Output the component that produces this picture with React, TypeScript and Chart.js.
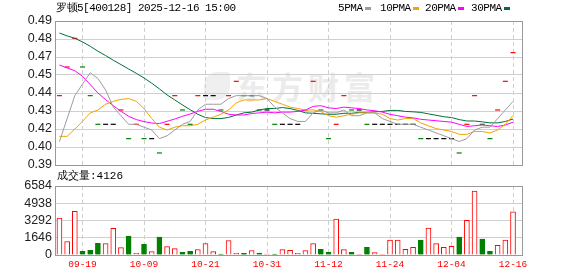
import React, { useEffect, useRef } from "react";
import { Chart, registerables } from "chart.js";

Chart.register(...registerables);

const TITLE = "罗顿5[400128] 2025-12-16 15:00";
const VOLUME_TITLE = "成交量:4126";
const WATERMARK = "东方财富";

const DATES = [
  "09-16", "09-17", "09-18", "09-19", "09-22", "09-23", "09-24", "09-25", "09-26", "09-29",
  "09-30", "10-09", "10-10", "10-13", "10-14", "10-15", "10-16", "10-17", "10-20", "10-21",
  "10-22", "10-23", "10-24", "10-27", "10-28", "10-29", "10-30", "10-31", "11-03", "11-04",
  "11-05", "11-06", "11-07", "11-10", "11-11", "11-12", "11-13", "11-14", "11-17", "11-18",
  "11-19", "11-20", "11-21", "11-24", "11-25", "11-26", "11-27", "11-28", "12-01", "12-02",
  "12-03", "12-04", "12-05", "12-08", "12-09", "12-10", "12-11", "12-12", "12-15", "12-16",
];
const DATE_TICKS = ["09-19", "10-09", "10-21", "10-31", "11-12", "11-24", "12-04", "12-16"];

const CLOSE = [
  0.44, 0.46, 0.48, 0.46, 0.44, 0.42, 0.42, 0.42, 0.43, 0.41,
  0.42, 0.41, 0.41, 0.40, 0.42, 0.44, 0.43, 0.42, 0.44, 0.44,
  0.44, 0.43, 0.44, 0.45, 0.44, 0.44, 0.43, 0.43, 0.42, 0.42,
  0.42, 0.42, 0.43, 0.45, 0.43, 0.41, 0.42, 0.44, 0.43, 0.43,
  0.42, 0.42, 0.42, 0.42, 0.42, 0.42, 0.42, 0.41, 0.41, 0.41,
  0.41, 0.41, 0.40, 0.42, 0.44, 0.42, 0.41, 0.43, 0.45, 0.47,
];
const DIRECTION = [
  "up", "up", "up", "down", "down", "down", "flat", "flat", "up", "down",
  "up", "down", "flat", "down", "up", "up", "down", "down", "up", "flat",
  "flat", "down", "up", "up", "down", "flat", "down", "flat", "down", "flat",
  "flat", "flat", "up", "up", "down", "down", "up", "up", "down", "flat",
  "down", "flat", "flat", "flat", "flat", "flat", "flat", "down", "flat", "flat",
  "flat", "flat", "down", "up", "up", "down", "down", "up", "up", "up",
];

const MA5 = [
  0.408, 0.424, 0.44, 0.448, 0.456, 0.452, 0.444, 0.432, 0.426, 0.42,
  0.42, 0.418, 0.416, 0.41, 0.412, 0.416, 0.42, 0.422, 0.43, 0.434,
  0.434, 0.434, 0.438, 0.44, 0.44, 0.44, 0.44, 0.438, 0.432, 0.428,
  0.424, 0.422, 0.422, 0.428, 0.43, 0.428, 0.428, 0.43, 0.426, 0.426,
  0.428, 0.428, 0.424, 0.422, 0.42, 0.42, 0.42, 0.418, 0.416, 0.414,
  0.412, 0.41, 0.408, 0.41, 0.416, 0.418, 0.418, 0.424, 0.43, 0.436,
];
const MA10 = [
  0.4116, 0.4116, 0.4167, 0.4221, 0.4279, 0.43, 0.434, 0.436, 0.4374, 0.438,
  0.436, 0.431, 0.424, 0.418, 0.416, 0.418, 0.419, 0.419, 0.42, 0.423,
  0.425, 0.427, 0.43, 0.435, 0.437, 0.437, 0.437, 0.438, 0.436, 0.434,
  0.432, 0.431, 0.43, 0.43, 0.429, 0.426, 0.425, 0.426, 0.427, 0.428,
  0.428, 0.428, 0.427, 0.424, 0.423, 0.424, 0.424, 0.421, 0.419, 0.417,
  0.416, 0.415, 0.413, 0.413, 0.415, 0.415, 0.414, 0.416, 0.42, 0.426,
];
const MA20 = [
  0.4614, 0.4593, 0.4574, 0.4535, 0.4477, 0.4419, 0.4372, 0.433, 0.4291, 0.4256,
  0.4233, 0.4219, 0.4209, 0.4205, 0.4221, 0.4237, 0.4256, 0.4272, 0.4291, 0.4305,
  0.4305, 0.429, 0.427, 0.4265, 0.4265, 0.4275, 0.428, 0.4285, 0.428, 0.4285,
  0.4285, 0.429, 0.43, 0.4325, 0.433, 0.4315, 0.431, 0.432, 0.4315, 0.431,
  0.43, 0.4295, 0.4285, 0.427, 0.426, 0.425, 0.4245, 0.4235, 0.423, 0.4225,
  0.422, 0.4215, 0.42, 0.4185, 0.419, 0.4195, 0.419, 0.4185, 0.4195, 0.4215,
];
const MA30 = [
  0.4837, 0.4817, 0.48, 0.4775, 0.4745, 0.471, 0.468, 0.4647, 0.4617, 0.4586,
  0.4556, 0.4523, 0.4487, 0.4447, 0.4405, 0.437, 0.4335, 0.4302, 0.427, 0.4247,
  0.424, 0.424, 0.4248, 0.4265, 0.428, 0.4285, 0.43, 0.431, 0.431, 0.4317,
  0.431, 0.4297, 0.428, 0.4277, 0.4273, 0.427, 0.427, 0.4277, 0.4277, 0.4283,
  0.4283, 0.4287, 0.429, 0.4297, 0.4297, 0.429, 0.4287, 0.4283, 0.4273, 0.4263,
  0.4253, 0.4247, 0.4233, 0.4223, 0.4223, 0.4217, 0.421, 0.421, 0.422, 0.4237,
];

const VOLUME = [
  3531, 1284, 4173, 353, 450, 1124, 1091, 2536, 706, 1798,
  160, 1027, 321, 1701, 802, 610, 257, 353, 514, 1091,
  321, 96, 1380, 160, 160, 417, 193, 96, 96, 514,
  450, 160, 417, 1091, 546, 257, 3435, 514, 257, 64,
  738, 225, 64, 1412, 1412, 546, 738, 1412, 2568, 1091,
  738, 835, 1701, 3306, 6099, 1509, 353, 931, 1412, 4126,
];

const MA_LABELS = ["5PMA", "10PMA", "20PMA", "30PMA"];
const MA_VALUES = [MA5, MA10, MA20, MA30];

const PRICE_TICKS = ["0.39", "0.40", "0.42", "0.43", "0.44", "0.45", "0.47", "0.48", "0.49"];
const PRICE_MIN = 0.3916;
const PRICE_MAX = 0.4921;
const VOLUME_TICKS = ["0", "1646", "3292", "4938", "6584"];

// ---- styles ----
const MA_COLORS = ["#9c9c9c", "#f2a300", "#ff00ff", "#00703a"];
const UP = "#ff0000";
const DOWN = "#008000";
const FLAT = "#000000";
const GRID = "#cfcfcf";
const FRAME = "#999999";
const MONO = '"Liberation Mono", "DejaVu Sans Mono", monospace';
const SANS = '"Liberation Sans", Arial, sans-serif';
const LEGEND_X = [338, 380, 425, 471];

const dirColor = (d: string) => (d === "up" ? UP : d === "down" ? DOWN : FLAT);

const framePlugin = {
  id: "frame",
  afterDraw(chart: any) {
    const { ctx, chartArea: a } = chart;
    ctx.save();
    ctx.strokeStyle = FRAME;
    ctx.lineWidth = 1;
    ctx.strokeRect(a.left + 0.5, a.top + 0.5, a.right - a.left, a.bottom - a.top);
    ctx.restore();
  },
};

function xScale(showLabels: boolean) {
  return {
    type: "linear",
    min: -0.58,
    max: DATES.length + 0.17,
    offset: false,
    afterBuildTicks: (s: any) => {
      s.ticks = DATE_TICKS.map((d) => ({ value: DATES.indexOf(d) }));
    },
    afterFit: (s: any) => {
      s.height = showLabels ? 21 : 0;
    },
    ticks: {
      display: showLabels,
      autoSkip: false,
      maxRotation: 0,
      minRotation: 0,
      padding: 4,
      color: UP,
      font: { family: MONO, size: 9.5 },
      callback: (v: number) => DATES[Math.round(v)],
    },
    grid: { color: GRID, lineWidth: 1, drawTicks: false, offset: false },
    border: { display: false, dash: [4, 3] },
  };
}

export default function App() {
  const priceRef = useRef<HTMLCanvasElement>(null);
  const volRef = useRef<HTMLCanvasElement>(null);

  useEffect(() => {
    const maSets = MA_VALUES.map((vals, k) => ({
      type: "line",
      label: MA_LABELS[k],
      data: vals.map((y, i) => ({ x: i, y })),
      borderColor: MA_COLORS[k],
      borderWidth: 1,
      pointRadius: 0,
      tension: 0,
      fill: false,
      order: 1,
    }));
    const candleSet = {
      type: "line",
      label: "K",
      data: CLOSE.map((y, i) => ({ x: i, y })),
      showLine: false,
      pointStyle: "line",
      pointRadius: 2.5,
      pointBorderWidth: 1.2,
      pointBorderColor: DIRECTION.map(dirColor),
      pointBackgroundColor: DIRECTION.map(dirColor),
      order: 5,
    };

    const price = new Chart(priceRef.current as HTMLCanvasElement, {
      type: "line",
      data: { datasets: [...maSets, candleSet] as any },
      options: {
        responsive: false,
        animation: false,
        events: [],
        layout: { padding: { left: 0, right: 56, top: 21, bottom: 15 } },
        plugins: { legend: { display: false }, tooltip: { enabled: false } },
        scales: {
          x: xScale(false) as any,
          y: {
            min: PRICE_MIN,
            max: PRICE_MAX,
            afterBuildTicks: (s: any) => {
              s.ticks = PRICE_TICKS.map((_, k) => ({
                value: PRICE_MIN + ((PRICE_MAX - PRICE_MIN) * k) / (PRICE_TICKS.length - 1),
              }));
            },
            afterFit: (s: any) => {
              s.width = 55;
            },
            ticks: {
              autoSkip: false,
              padding: 3,
              color: "#222222",
              font: { family: SANS, size: 12.5 },
              callback: (_v: any, i: number) => PRICE_TICKS[i],
            },
            grid: { color: GRID, drawTicks: false },
            border: { display: false },
          } as any,
        },
      },
      plugins: [framePlugin],
    });

    const vol = new Chart(volRef.current as HTMLCanvasElement, {
      type: "bar",
      data: {
        datasets: [
          {
            data: VOLUME.map((y, i) => ({ x: i, y })) as any,
            barThickness: 5,
            backgroundColor: DIRECTION.map((d) => (d === "down" ? DOWN : "#ffffff")),
            borderColor: DIRECTION.map((d) => (d === "down" ? DOWN : UP)),
            borderWidth: 1,
          },
        ],
      },
      options: {
        responsive: false,
        animation: false,
        events: [],
        layout: { padding: { left: 0, right: 56, top: 21, bottom: 0 } },
        plugins: { legend: { display: false }, tooltip: { enabled: false } },
        scales: {
          x: xScale(true) as any,
          y: {
            min: 0,
            max: Number(VOLUME_TICKS[VOLUME_TICKS.length - 1]),
            afterBuildTicks: (s: any) => {
              s.ticks = VOLUME_TICKS.map((t) => ({ value: Number(t) }));
            },
            afterFit: (s: any) => {
              s.width = 55;
            },
            ticks: {
              autoSkip: false,
              padding: 3,
              color: "#222222",
              font: { family: SANS, size: 12.5 },
              callback: (_v: any, i: number) => VOLUME_TICKS[i],
            },
            grid: { color: GRID, drawTicks: false },
            border: { display: false },
          } as any,
        },
      },
      plugins: [framePlugin],
    });

    return () => {
      price.destroy();
      vol.destroy();
    };
  }, []);

  return (
    <div
      style={{
        position: "absolute",
        left: 0,
        top: 0,
        width: 578,
        height: 276,
        background: "#ffffff",
        overflow: "hidden",
      }}
    >
      <div
        style={{
          position: "absolute",
          left: 204,
          top: 72,
          width: 26,
          height: 28,
          borderRadius: "50% 10% 50% 10%",
          background: "#efefef",
        }}
      />
      <div
        style={{
          position: "absolute",
          left: 236,
          top: 70,
          fontFamily: '"Noto Sans CJK SC", sans-serif',
          fontWeight: 700,
          fontSize: 31,
          lineHeight: 1,
          letterSpacing: 5,
          color: "#ebebeb",
          whiteSpace: "nowrap",
        }}
      >
        {WATERMARK}
      </div>
      <canvas
        ref={priceRef}
        width={578}
        height={180}
        style={{ position: "absolute", left: 0, top: 0, width: 578, height: 180 }}
      />
      <canvas
        ref={volRef}
        width={578}
        height={111}
        style={{ position: "absolute", left: 0, top: 165, width: 578, height: 111 }}
      />
      <div
        style={{
          position: "absolute",
          left: 56,
          top: 2,
          fontFamily: MONO,
          fontSize: 11,
          lineHeight: "13px",
          letterSpacing: -0.5,
          color: "#000",
          whiteSpace: "nowrap",
        }}
      >
        {TITLE}
      </div>
      {MA_LABELS.map((l, k) => (
        <div
          key={l}
          style={{
            position: "absolute",
            left: LEGEND_X[k],
            top: 2,
            fontFamily: MONO,
            fontSize: 11,
            lineHeight: "13px",
            letterSpacing: -0.45,
            color: "#000",
            whiteSpace: "nowrap",
            display: "flex",
            alignItems: "center",
          }}
        >
          <span>{l}</span>
          <span
            style={{
              display: "inline-block",
              width: 6,
              height: 3,
              marginLeft: 2,
              background: MA_COLORS[k],
            }}
          />
        </div>
      ))}
      <div
        style={{
          position: "absolute",
          left: 57,
          top: 170,
          fontFamily: MONO,
          fontSize: 11,
          lineHeight: "13px",
          color: "#000",
          whiteSpace: "nowrap",
        }}
      >
        {VOLUME_TITLE}
      </div>
    </div>
  );
}
